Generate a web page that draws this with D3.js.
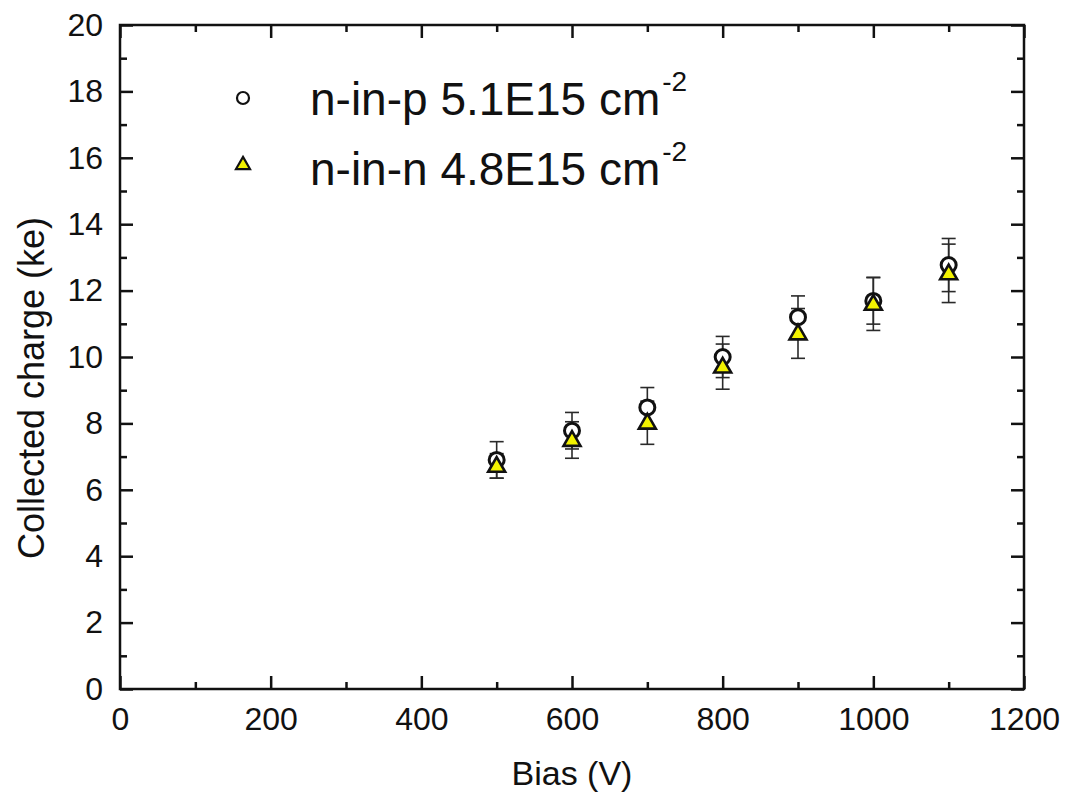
<!DOCTYPE html>
<html>
<head>
<meta charset="utf-8">
<script src="https://cdn.jsdelivr.net/npm/d3@7"></script>
<style>
  body { margin: 0; background: #fff; }
  text { font-family: "Liberation Sans", Arial, sans-serif; fill: #111; }
</style>
</head>
<body>
<svg id="chart" width="1066" height="796"></svg>
<script>
// values
const bias = [500, 600, 700, 800, 900, 1000, 1100];
const npCharge = [6.90, 7.78, 8.48, 10.00, 11.20, 11.69, 12.77];
const npErr = [0.55, 0.55, 0.60, 0.62, 0.64, 0.70, 0.80];
const nnCharge = [6.72, 7.50, 8.02, 9.71, 10.71, 11.60, 12.52];
const nnErr = [0.37, 0.55, 0.65, 0.68, 0.75, 0.80, 0.88];
const xMajor = [0, 200, 400, 600, 800, 1000, 1200];
const xMinor = [100, 300, 500, 700, 900, 1100];
const yMajor = [0, 2, 4, 6, 8, 10, 12, 14, 16, 18, 20];
const yMinor = [1, 3, 5, 7, 9, 11, 13, 15, 17, 19];
const legendLabels = ["n-in-p 5.1E15 cm", "n-in-n 4.8E15 cm"];

const svg = d3.select("#chart");
const x = d3.scaleLinear().domain([0, 1200]).range([120, 1024]);
const y = d3.scaleLinear().domain([0, 20]).range([689, 25]);

const tri = d3.symbol().type(d3.symbolTriangle);

// ticks (inward, on all four sides)
function ticks(axis, vals, len, pos, labels) {
  const g = svg.append("g").attr("transform", pos)
    .call(axis.tickValues(vals).tickSize(len).tickSizeOuter(0)
      .tickFormat(labels ? d3.format("d") : ""));
  g.select(".domain").remove();
  g.selectAll("line").attr("stroke", "#111").attr("stroke-width", 2.5);
  return g;
}

const bx = ticks(d3.axisBottom(x).tickPadding(18), xMajor, -13, "translate(0,689)", true);
ticks(d3.axisBottom(x), xMinor, -7, "translate(0,689)", false);
ticks(d3.axisTop(x), xMajor, -13, "translate(0,25)", false);
ticks(d3.axisTop(x), xMinor, -7, "translate(0,25)", false);
const ly = ticks(d3.axisLeft(y).tickPadding(17), yMajor, -13, "translate(120,0)", true);
ticks(d3.axisLeft(y), yMinor, -7, "translate(120,0)", false);
ticks(d3.axisRight(y), yMajor, -13, "translate(1024,0)", false);
ticks(d3.axisRight(y), yMinor, -7, "translate(1024,0)", false);

bx.selectAll("text").attr("font-size", 32).attr("font-family", "Liberation Sans, Arial, sans-serif").attr("fill", "#111");
ly.selectAll("text").attr("font-size", 32).attr("font-family", "Liberation Sans, Arial, sans-serif").attr("fill", "#111");

// frame
svg.append("rect")
  .attr("x", x(0)).attr("y", y(20))
  .attr("width", x(1200) - x(0)).attr("height", y(0) - y(20))
  .attr("fill", "none").attr("stroke", "#111").attr("stroke-width", 2.5);

// axis titles
svg.append("text")
  .attr("x", (x(0) + x(1200)) / 2).attr("y", 785)
  .attr("text-anchor", "middle").attr("font-size", 34)
  .text("Bias (V)");
svg.append("text")
  .attr("transform", "translate(44,388) rotate(-90)")
  .attr("text-anchor", "middle").attr("font-size", 36)
  .text("Collected charge (ke)");

// error bars
function errBars(vals, errs) {
  const g = svg.append("g").attr("stroke", "#2a2a2a").attr("stroke-width", 1.6);
  bias.forEach((b, i) => {
    const cx = x(b), lo = y(vals[i] - errs[i]), hi = y(vals[i] + errs[i]);
    g.append("line").attr("x1", cx).attr("x2", cx).attr("y1", lo).attr("y2", hi);
    g.append("line").attr("x1", cx - 7).attr("x2", cx + 7).attr("y1", lo).attr("y2", lo);
    g.append("line").attr("x1", cx - 7).attr("x2", cx + 7).attr("y1", hi).attr("y2", hi);
  });
}
errBars(npCharge, npErr);
errBars(nnCharge, nnErr);

// n-in-p circles
svg.append("g").selectAll("circle")
  .data(bias)
  .join("circle")
    .attr("cx", d => x(d))
    .attr("cy", (d, i) => y(npCharge[i]))
    .attr("r", 7.5)
    .attr("fill", "#fff")
    .attr("stroke", "#111")
    .attr("stroke-width", 3);

// n-in-n triangles
svg.append("g").selectAll("path")
  .data(bias)
  .join("path")
    .attr("d", tri.size(125))
    .attr("transform", (d, i) => `translate(${x(d)},${y(nnCharge[i]) + 1})`)
    .attr("fill", "#f2f200")
    .attr("stroke", "#111")
    .attr("stroke-width", 2.6)
    .attr("stroke-linejoin", "miter");

// legend
svg.append("circle")
  .attr("cx", 243).attr("cy", 98).attr("r", 6)
  .attr("fill", "#fff").attr("stroke", "#111").attr("stroke-width", 2.2);
svg.append("path")
  .attr("d", tri.size(85))
  .attr("transform", "translate(243,165)")
  .attr("fill", "#f2f200").attr("stroke", "#111").attr("stroke-width", 2.2);

legendLabels.forEach((t, i) => {
  const txt = svg.append("text")
    .attr("x", 310).attr("y", 115 + i * 70)
    .attr("font-size", 46);
  txt.append("tspan").text(t);
  txt.append("tspan").attr("dx", 2).attr("dy", -24).attr("font-size", 28).text("-2");
});
</script>
</body>
</html>
